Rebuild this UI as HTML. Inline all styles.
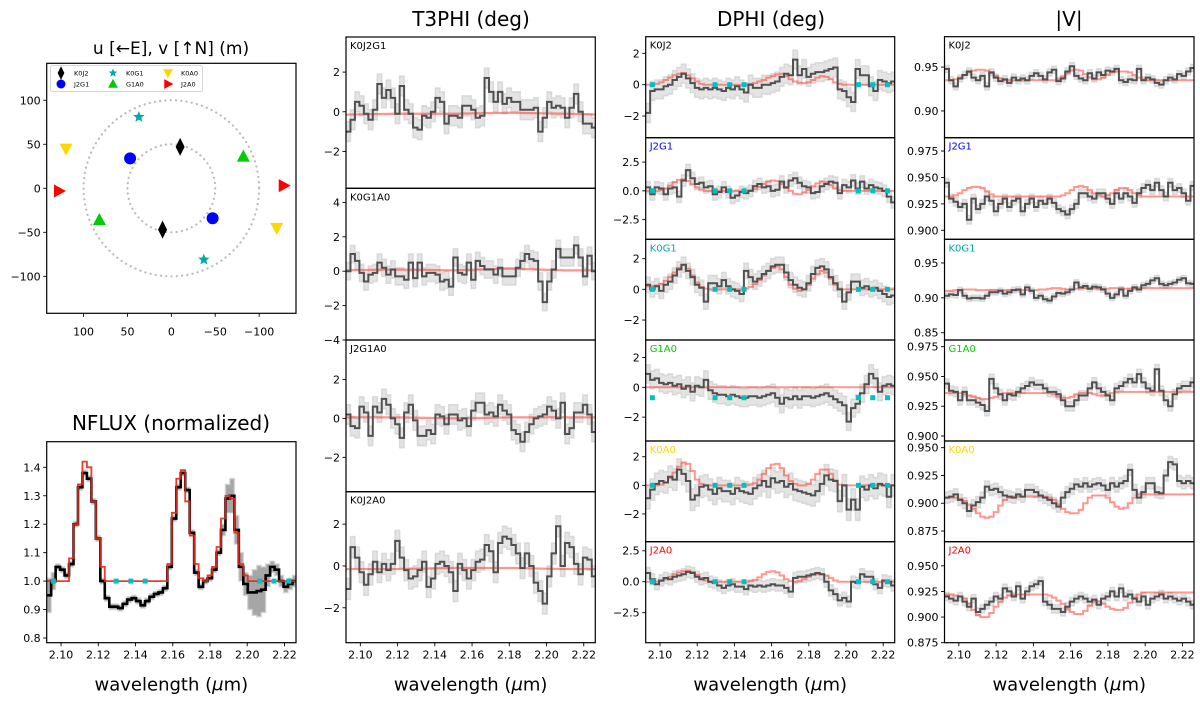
<!DOCTYPE html>
<html><head><meta charset="utf-8"><style>
html,body{margin:0;padding:0;background:#fff;}
svg{display:block;font-family:"DejaVu Sans","Liberation Sans",sans-serif;}
</style></head><body>
<svg id="fig" width="1200" height="702" viewBox="0 0 1200 702" xmlns="http://www.w3.org/2000/svg">
<defs id="defs"></defs>
</svg>
<script>
// ---------- DATA ----------
const binStart = 2.0935, binWidth = 0.0024, nBins = 56;
const xTicks = [2.10, 2.12, 2.14, 2.16, 2.18, 2.20, 2.22];
const contWl = [2.0959, 2.1296, 2.1375, 2.1452, 2.2067, 2.2144, 2.2223];

const nfluxData = [0.95,1.00,1.05,1.04,1.02,1.06,1.20,1.33, 1.38,1.36,1.28,1.15,1.00,0.94,0.91,0.91, 0.905,0.92,0.935,0.94,0.93,0.915,0.93,0.945, 0.955,0.96,0.975,1.05,1.22,1.33,1.38,1.32, 1.17,1.03,0.98,1.00,1.01,1.04,1.10,1.18, 1.29,1.30,1.18,1.05,0.99,0.96,0.96,0.965, 0.97,1.02,1.05,1.04,1.00,0.98,0.99,1.00];
const nfluxModel = [1,1,1,1,1,1.08,1.2,1.34, 1.42,1.40,1.28,1.15,1.05,1,1,1, 1,1,1,1,1,1,1,1, 1,1,1,1.06,1.24,1.36,1.39,1.28, 1.16,1.06,1.01,1.0,1.02,1.05,1.12,1.22, 1.30,1.29,1.17,1.06,1.02,1,1,1, 1,1,1,1,1,1,1,1];
const nfluxErr = [0.06,0.03,0.01,0.01,0.01,0.01,0.01,0.01, 0.01,0.01,0.01,0.01,0.01,0.01,0.01,0.01, 0.01,0.01,0.01,0.01,0.01,0.01,0.01,0.01, 0.01,0.01,0.01,0.01,0.01,0.01,0.01,0.01, 0.01,0.01,0.01,0.01,0.01,0.01,0.01,0.02, 0.05,0.06,0.05,0.05,0.04,0.06,0.08,0.09, 0.08,0.04,0.02,0.02,0.02,0.02,0.02,0.02];
const nfluxTicks = [0.8,0.9,1.0,1.1,1.2,1.3,1.4];

const t3Names = ['K0J2G1','K0G1A0','J2G1A0','K0J2A0'];
const t3Data1 = [-1.0,-0.4,0.5,0.3,-0.1,-0.4,0.1,1.4,0.7,1.1,0.7,-0.1,1.3,0.1,-0.1,-0.8,-0.9,-0.2,-0.3,0.0,0.7,0.5,-0.6,-0.2,-0.2,-0.3,0.3,0.3,0.1,-0.3,-0.2,1.7,1.0,0.5,1.0,0.4,0.7,0.5,0.5,0.1,0.1,0.1,0.2,-1.0,-0.3,0.5,0.2,0.3,0.2,-0.3,0.2,0.9,0.0,-0.6,-0.6,-0.8];
const t3Data2 = [0.0,1.0,0.6,-0.1,-0.6,-0.2,-0.1,0.5,0.2,-0.2,0.1,-0.3,-0.3,-0.5,0.5,-0.4,0.5,-0.3,-0.1,-0.1,-0.2,-0.6,-0.5,-0.9,0.8,-0.1,-0.2,0.5,-0.5,0.6,0.3,0.1,0.1,-0.2,0.2,-0.3,-0.3,-0.3,0.2,0.6,1.0,0.7,0.6,-0.6,-1.8,-0.6,0.1,1.3,0.8,0.8,0.8,1.5,0.8,-0.3,0.9,0.0];
const t3Data3 = [0.2,-0.4,-0.5,0.6,0.3,-0.9,0.6,0.3,1.0,0.7,0.0,-0.3,-1.0,0.3,0.7,-0.1,-0.9,-0.9,-0.6,-0.8,0.2,0.1,-0.3,0.2,0.2,-0.1,0.0,-0.4,0.4,0.8,0.8,0.2,0.3,0.1,0.7,0.4,0.2,-0.6,-0.8,-1.2,-0.7,-0.3,0.0,0.1,0.2,0.6,0.4,0.0,0.8,-0.8,-0.5,0.3,0.3,0.7,0.2,-0.7];
const t3Data4 = [-1.1,0.9,0.4,-0.3,-0.9,-0.4,0.2,-0.3,0.1,-0.2,0.1,1.2,0.4,-0.2,-0.6,-0.5,-0.2,0.2,-1.0,-0.6,0.1,0.2,0.0,-0.3,-1.2,0.1,-0.2,-0.6,-0.2,0.2,0.3,1.0,0.7,-0.3,1.1,1.4,1.3,1.0,0.6,-0.1,0.6,0.0,-0.8,-1.2,-1.8,-0.5,0.6,1.9,0.0,1.1,0.9,0.1,-0.4,0.4,0.3,-0.5];
const t3ModelWl = [2.09, 2.12, 2.15, 2.18, 2.21, 2.23];
const t3Model1 = [-0.15,-0.1,-0.1,-0.05,-0.1,-0.15];
const t3Model2 = [0.05,0.1,0.05,0.15,0.05,0.05];
const t3Model3 = [0.05,0.05,0.0,0.05,0.05,0.05];
const t3Model4 = [-0.15,-0.15,-0.1,-0.1,-0.15,-0.15];

const blNames = ['K0J2','J2G1','K0G1','G1A0','K0A0','J2A0'];
const dphiData1 = [-1.8,-0.4,-0.3,-0.3,-0.1,0.0,0.3,0.5,0.7,0.4,0.1,-0.2,-0.3,-0.2,-0.3,-0.2,-0.3,-0.4,-0.2,-0.3,-0.1,-0.3,-0.5,0.0,-0.2,-0.2,0.0,0.0,0.1,0.2,0.5,0.7,0.6,1.6,0.6,1.0,0.5,0.7,0.8,0.8,0.9,1.0,1.1,-0.3,-0.4,-0.8,-1.1,1.0,0.6,0.6,-0.1,-0.4,0.3,0.2,0.1,0.2];
const dphiModel1 = [0,0,0.05,0.15,0.3,0.45,0.6,0.7,0.75,0.6,0.4,0.2,0.05,0,0,0,0,0,0,0,0,0,0,0.05,0.1,0.2,0.3,0.45,0.55,0.65,0.7,0.55,0.35,0.2,0.12,0.1,0.15,0.3,0.45,0.55,0.5,0.35,0.15,0.05,0,0,0,0,0,0,0,0,0,0,0,0];
const dphiData2 = [0.3,-0.3,0.3,0.2,-0.3,0.2,0.3,-0.5,0.9,1.8,1.1,0.6,0.7,0.3,0.4,-0.3,-0.1,0.3,-0.1,-0.6,-0.4,-0.1,-0.2,0.0,0.4,0.6,0.3,0.4,0.0,0.1,0.8,0.3,0.9,1.1,0.7,0.4,0.3,-0.2,-0.1,0.4,0.6,0.8,0.7,-0.2,0.5,0.3,0.9,0.2,0.8,0.2,0.5,0.3,0.2,0.0,-0.5,-1.0];
const dphiModel2 = [0,0,0,0.05,0.2,0.45,0.75,0.95,1.0,0.85,0.55,0.3,0.1,0,0,0,0,0,0,0,0,0,0,0.05,0.15,0.35,0.6,0.8,0.9,0.85,0.6,0.25,0,-0.25,-0.3,-0.15,0.1,0.4,0.65,0.8,0.75,0.5,0.2,0.05,0,0,0,0,0,0,0,0,0,0,0,0];
const dphiData3 = [0.3,0.0,0.2,-0.1,0.3,0.5,0.9,1.3,1.6,1.2,0.8,0.3,0.1,-0.8,0.4,0.4,0.2,0.6,0.2,0.0,-0.1,-0.3,1.2,0.8,0.5,0.7,1.0,1.2,1.5,1.6,1.6,1.1,0.6,0.3,0.1,0.0,0.4,1.0,1.4,1.5,1.3,0.8,0.4,0.0,-0.8,-0.2,0.5,0.5,0.1,0.2,0.0,0.1,-0.1,-0.3,-0.5,-0.4];
const dphiModel3 = [0.2,0.2,0.25,0.35,0.55,0.8,1.1,1.4,1.6,1.35,0.9,0.45,0.15,0.05,0,0,0,0,0,0,0,0,0.05,0.15,0.35,0.6,0.9,1.2,1.4,1.5,1.3,0.8,0.3,0.05,-0.1,0,0.3,0.7,1.0,1.2,1.1,0.7,0.3,0.05,0,0,0,0,0,0,0,0,0,0,0,0];
const dphiData4 = [0.9,0.5,0.6,0.3,0.2,0.3,0.1,0.2,-0.1,0.1,-0.3,0.1,0.0,0.5,-0.2,-0.4,-0.5,-0.5,-0.6,-0.5,-0.6,-0.7,-0.7,-0.6,-0.6,-0.7,-0.6,-0.5,-0.4,-0.7,-1.1,-0.7,-0.8,-0.6,-0.8,-0.6,-0.6,-0.7,-0.6,-0.5,-0.4,-0.6,-0.8,-1.0,-1.2,-2.3,-1.4,-1.1,-0.4,0.2,0.9,0.6,-0.3,0.1,0.2,0.1];
const dphiModel4 = [0,0,0,0,0,0,0,0,0,0,0,0,0,0,0,0,0,0,0,0,0,0,0,0,0,0,0,0,0,0,0,0,0,0,0,0,0,0,0,0,0,0,0,0,0,0,0,0,0,0,0,0,0,0,0,0];
const dphiData5 = [-0.9,-0.3,0.1,0.3,0.2,0.6,0.4,1.1,0.8,0.3,-1.0,-0.7,-0.1,0.0,-0.3,-0.6,-0.2,-0.4,-0.4,-0.6,-0.2,-0.4,-0.5,-0.6,-0.2,0.0,0.3,-0.1,0.5,0.2,0.3,-0.1,0.1,-0.3,-0.4,-0.5,-0.6,-0.7,-0.4,0.1,0.7,0.4,0.3,-1.1,0.0,-1.7,-1.0,-1.7,-0.1,-0.3,0.0,-0.2,0.1,0.0,-0.8,0.0];
const dphiModel5 = [0,0,0,0.05,0.2,0.5,0.9,1.3,1.6,1.5,1.0,0.4,0.1,0,0,0,0,0,0,0,0,0,0,0.05,0.15,0.4,0.8,1.2,1.45,1.5,1.2,0.7,0.3,0.1,0,0,0.1,0.4,0.8,1.1,1.1,0.8,0.35,0.05,0,0,0,0,0,0,0,0,0,0,0,0];
const dphiData6 = [0.7,0.2,-0.2,0.1,0.3,0.2,0.4,0.5,0.6,0.8,0.7,0.4,0.2,0.3,0.0,-0.1,-0.3,-0.5,-0.3,-0.2,-0.4,-0.4,-0.6,-0.3,-0.4,-0.3,-0.4,-0.3,-0.2,-0.3,-0.3,-0.5,-0.8,0.3,0.4,0.4,0.5,0.6,0.7,0.6,0.0,-0.7,-1.0,-1.5,-1.3,-1.6,0.0,-0.1,0.6,0.4,0.4,-0.2,-0.5,0.1,0.0,-0.3];
const dphiModel6 = [0,0,0,0.05,0.2,0.4,0.6,0.75,0.85,0.9,0.8,0.55,0.3,0.1,0,0,0,0,0,0,0,0,0,0.05,0.15,0.35,0.6,0.8,0.85,0.75,0.5,0.2,0.05,0,0.05,0.2,0.4,0.55,0.6,0.6,0.5,0.3,0.1,0,0,0,0,0,0,0,0,0,0,0,0,0];

const visData1 = [0.948,0.935,0.928,0.937,0.941,0.945,0.938,0.935,0.940,0.928,0.944,0.938,0.934,0.936,0.932,0.938,0.935,0.937,0.935,0.940,0.943,0.940,0.936,0.944,0.947,0.934,0.937,0.945,0.951,0.940,0.937,0.935,0.943,0.937,0.944,0.941,0.946,0.945,0.948,0.935,0.933,0.936,0.935,0.948,0.935,0.938,0.936,0.932,0.930,0.935,0.938,0.936,0.942,0.940,0.945,0.949];
const visModel1 = [0.935,0.935,0.936,0.938,0.941,0.944,0.946,0.947,0.947,0.946,0.943,0.940,0.937,0.935,0.935,0.935,0.935,0.935,0.935,0.935,0.935,0.935,0.935,0.935,0.935,0.936,0.939,0.943,0.946,0.947,0.946,0.942,0.938,0.936,0.936,0.938,0.941,0.944,0.945,0.945,0.945,0.944,0.941,0.938,0.936,0.935,0.935,0.935,0.935,0.935,0.935,0.935,0.935,0.935,0.935,0.935];
const visData2 = [0.945,0.930,0.927,0.922,0.925,0.910,0.930,0.920,0.925,0.932,0.928,0.918,0.925,0.930,0.922,0.928,0.930,0.918,0.925,0.930,0.922,0.928,0.925,0.930,0.926,0.920,0.918,0.915,0.920,0.925,0.935,0.935,0.932,0.930,0.935,0.935,0.930,0.925,0.935,0.930,0.935,0.932,0.926,0.935,0.940,0.943,0.938,0.945,0.938,0.932,0.945,0.938,0.940,0.935,0.928,0.942];
const visModel2 = [0.932,0.932,0.933,0.935,0.938,0.940,0.941,0.941,0.940,0.937,0.934,0.932,0.932,0.932,0.932,0.932,0.932,0.932,0.932,0.932,0.932,0.932,0.932,0.932,0.932,0.932,0.933,0.935,0.938,0.941,0.942,0.941,0.938,0.935,0.933,0.932,0.933,0.935,0.938,0.940,0.940,0.938,0.935,0.933,0.932,0.932,0.932,0.932,0.932,0.932,0.932,0.932,0.932,0.932,0.932,0.932];
const visData3 = [0.903,0.905,0.904,0.911,0.903,0.899,0.900,0.900,0.899,0.903,0.908,0.908,0.910,0.906,0.908,0.911,0.912,0.905,0.915,0.910,0.900,0.903,0.898,0.896,0.902,0.907,0.906,0.908,0.912,0.922,0.915,0.917,0.913,0.916,0.915,0.912,0.906,0.900,0.905,0.912,0.903,0.910,0.915,0.912,0.918,0.920,0.925,0.928,0.920,0.918,0.920,0.922,0.926,0.928,0.921,0.920];
const visModel3 = [0.910,0.910,0.911,0.911,0.912,0.912,0.912,0.911,0.911,0.911,0.911,0.911,0.911,0.911,0.911,0.911,0.911,0.911,0.911,0.911,0.911,0.912,0.912,0.913,0.914,0.914,0.913,0.912,0.912,0.913,0.914,0.914,0.914,0.914,0.913,0.913,0.913,0.914,0.914,0.914,0.913,0.913,0.913,0.914,0.914,0.914,0.914,0.914,0.914,0.914,0.914,0.914,0.914,0.914,0.914,0.914];
const visData4 = [0.944,0.938,0.937,0.930,0.937,0.930,0.930,0.928,0.926,0.921,0.948,0.940,0.935,0.930,0.935,0.934,0.937,0.940,0.942,0.945,0.943,0.943,0.940,0.937,0.937,0.935,0.930,0.925,0.925,0.930,0.934,0.934,0.940,0.945,0.940,0.937,0.934,0.930,0.940,0.942,0.945,0.948,0.945,0.952,0.945,0.940,0.938,0.956,0.938,0.930,0.925,0.935,0.940,0.942,0.942,0.945];
const visModel4 = [0.936,0.936,0.936,0.936,0.935,0.934,0.933,0.932,0.931,0.931,0.932,0.933,0.935,0.936,0.936,0.936,0.936,0.936,0.936,0.936,0.936,0.936,0.936,0.936,0.935,0.933,0.932,0.932,0.933,0.935,0.936,0.936,0.936,0.935,0.934,0.934,0.935,0.936,0.937,0.937,0.937,0.937,0.937,0.937,0.937,0.937,0.937,0.937,0.937,0.937,0.937,0.937,0.937,0.937,0.937,0.937];
const visData5 = [0.905,0.906,0.908,0.903,0.900,0.893,0.898,0.901,0.905,0.915,0.912,0.913,0.910,0.907,0.906,0.905,0.908,0.906,0.912,0.912,0.910,0.907,0.905,0.903,0.900,0.897,0.905,0.910,0.913,0.917,0.915,0.918,0.915,0.917,0.918,0.916,0.912,0.918,0.915,0.918,0.920,0.930,0.912,0.905,0.910,0.918,0.918,0.910,0.909,0.925,0.937,0.935,0.920,0.918,0.920,0.918];
const visModel5 = [0.905,0.905,0.905,0.904,0.902,0.899,0.895,0.891,0.888,0.887,0.888,0.892,0.898,0.903,0.905,0.906,0.906,0.906,0.906,0.906,0.906,0.906,0.906,0.905,0.903,0.899,0.895,0.892,0.891,0.891,0.894,0.900,0.905,0.907,0.907,0.907,0.905,0.901,0.897,0.895,0.896,0.900,0.905,0.908,0.908,0.908,0.908,0.908,0.908,0.908,0.908,0.908,0.908,0.908,0.908,0.908];
const visData6 = [0.920,0.918,0.916,0.920,0.915,0.910,0.918,0.905,0.908,0.912,0.915,0.920,0.918,0.928,0.925,0.920,0.930,0.918,0.925,0.930,0.932,0.935,0.915,0.912,0.908,0.908,0.905,0.910,0.915,0.918,0.920,0.918,0.915,0.917,0.912,0.918,0.920,0.925,0.920,0.928,0.920,0.922,0.918,0.915,0.920,0.912,0.918,0.920,0.922,0.918,0.920,0.918,0.916,0.918,0.915,0.912];
const visModel6 = [0.922,0.922,0.921,0.920,0.918,0.913,0.907,0.902,0.900,0.900,0.904,0.910,0.915,0.919,0.921,0.922,0.922,0.922,0.922,0.922,0.922,0.922,0.922,0.921,0.919,0.916,0.913,0.908,0.905,0.903,0.903,0.906,0.911,0.915,0.915,0.913,0.910,0.908,0.907,0.907,0.909,0.914,0.919,0.922,0.924,0.924,0.924,0.924,0.924,0.924,0.924,0.924,0.924,0.924,0.924,0.924];

const uvNames = ['K0J2','J2G1','K0G1','G1A0','K0A0','J2A0'];
const uvU = [-10, 47, 37, -82, 120, 128];
const uvV = [47, 34, 81, 36, 45, -3];
const uvRadii = [50, 100];
const uvTicks = [-100,-50,0,50,100];

// ---------- RENDER ----------
const NS='http://www.w3.org/2000/svg';
const svg=document.getElementById('fig');
const defs=document.getElementById('defs');
let clipId=0;
function mk(tag,attrs,parent){const e=document.createElementNS(NS,tag);for(const k in attrs)e.setAttribute(k,attrs[k]);(parent||svg).appendChild(e);return e;}
function fmt(v,d){const s=Math.abs(v).toFixed(d);return (v<0?'\u2212':'')+s;}
const XMIN=2.0923, XMAX=2.2262;
const COLS={K0J2:'#000000',J2G1:'#0000ff',K0G1:'#00a8a8',G1A0:'#00cc00',K0A0:'#ffd700',J2A0:'#ff0000'};

function panel(name,x0,y0,w,h,ymin,ymax,ticks,dec,showX){
  const g=mk('g',{});
  
  
  const xs=v=>x0+(v-XMIN)/(XMAX-XMIN)*w;
  const ys=v=>y0+h-(v-ymin)/(ymax-ymin)*h;
  const cid='c'+(clipId++);
  const cp=mk('clipPath',{id:cid},defs);
  mk('rect',{x:x0,y:y0,width:w,height:h},cp);
  const plot=mk('g',{'clip-path':'url(#'+cid+')'},g);
  const axis=mk('g',{},g);
  ticks.forEach(t=>{
    const y=ys(t);
    const tk=mk('line',{x1:x0-3.5,x2:x0,y1:y,y2:y,stroke:'#000','stroke-width':0.9},axis);
    
    
    const tl=mk('text',{x:x0-6,y:y+4,'text-anchor':'end','font-size':11,fill:'#000'},axis);
    tl.textContent=fmt(t,dec);
    
    
  });
  if(showX){
    xTicks.forEach(t=>{
      const x=xs(t);
      const tk=mk('line',{x1:x,x2:x,y1:y0+h,y2:y0+h+3.5,stroke:'#000','stroke-width':0.9},axis);
      
      
      const tl=mk('text',{x:x,y:y0+h+16,'text-anchor':'middle','font-size':11,fill:'#000'},axis);
      tl.textContent=t.toFixed(2);
      
      
    });
    const xl=mk('text',{x:x0+w/2,y:y0+h+48,'text-anchor':'middle','font-size':18,fill:'#000'},axis);
    xl.innerHTML='wavelength (<tspan font-style="italic">\u03bc</tspan>m)';
    
    
  }
  return {g,plot,axis,xs,ys,x0,y0,w,h};
}
function frame(p){
  const f=mk('rect',{x:p.x0,y:p.y0,width:p.w,height:p.h,fill:'none',stroke:'#000','stroke-width':1.2},p.g);
  
  
}
function stepPath(p,vals){
  let d='';
  vals.forEach((v,i)=>{
    const xa=p.xs(binStart+(i-0.5)*binWidth), xb=p.xs(binStart+(i+0.5)*binWidth), y=p.ys(v);
    d+=(i===0?'M'+xa+' '+y:'V'+y)+'H'+xb;
  });
  return d;
}
function band(p,vals,errs,fill,opacity,name){
  const up=vals.map((v,i)=>v+(Array.isArray(errs)?errs[i]:errs));
  const lo=vals.map((v,i)=>v-(Array.isArray(errs)?errs[i]:errs));
  let d=stepPath(p,up);
  for(let i=lo.length-1;i>=0;i--){
    const xa=p.xs(binStart+(i-0.5)*binWidth), xb=p.xs(binStart+(i+0.5)*binWidth), y=p.ys(lo[i]);
    d+='L'+xb+' '+y+'H'+xa;
  }
  d+='Z';
  const e=mk('path',{d:d,fill:fill,'fill-opacity':opacity,stroke:'#cfcfcf','stroke-width':1.5,'stroke-opacity':0.7},p.plot);
  
  
}
function line(p,vals,color,width,opacity,name){
  const e=mk('path',{d:stepPath(p,vals),fill:'none',stroke:color,'stroke-width':width,'stroke-opacity':opacity},p.plot);
  
  
}
function smooth(p,xsArr,vals,color,name){
  const d=vals.map((v,i)=>(i?'L':'M')+p.xs(xsArr[i])+' '+p.ys(v)).join('');
  const e=mk('path',{d:d,fill:'none',stroke:color,'stroke-width':2.2,'stroke-opacity':0.5},p.plot);
  
  
}
function contMarkers(p,yv,name){
  contWl.forEach(w=>{
    const e=mk('rect',{x:p.xs(w)-2.5,y:p.ys(yv)-2.5,width:5,height:5,fill:'#00c0c0'},p.plot);
    
    
  });
}
function label(p,text,color){
  const t=mk('text',{x:p.x0+4,y:p.y0+12,'font-size':10,fill:color},p.g);
  t.textContent=text;
  
  
}
function title(x,y,size,text,name){
  const t=mk('text',{x:x,y:y,'text-anchor':'middle','font-size':size,fill:'#000'});
  t.textContent=text;
  
  
}

// Titles
title(171,54,17,'u [\u2190E], v [\u2191N] (m)','uv-title');
title(171,430,20,'NFLUX (normalized)','nflux-title');
title(471,26,20,'T3PHI (deg)','t3phi-title');
title(771,26,20,'DPHI (deg)','dphi-title');
title(1069,26,20,'|V|','vis-title');

// ---- UV plot ----
(function(){
  const x0=46.7,y0=63.3,w=249.3,h=250,lim=142;
  const g=mk('g',{});
  
  
  const ux=u=>x0+w/2-u/lim*(w/2);
  const vy=v=>y0+h/2-v/lim*(h/2);
  uvRadii.forEach(r=>{
    const c=mk('ellipse',{cx:ux(0),cy:vy(0),rx:r/lim*w/2,ry:r/lim*h/2,fill:'none',stroke:'#bbb','stroke-width':2.2,'stroke-dasharray':'0.1 5.2','stroke-linecap':'round'},g);
    
    
  });
  function marker(parent,name,cx,cy,s){
    const col=COLS[name];let e;
    if(name==='K0J2') e=mk('polygon',{points:`${cx},${cy-9*s} ${cx+4.5*s},${cy} ${cx},${cy+9*s} ${cx-4.5*s},${cy}`,fill:col},parent);
    else if(name==='J2G1') e=mk('circle',{cx:cx,cy:cy,r:6*s,fill:col},parent);
    else if(name==='K0G1'){let pts=[];for(let k=0;k<10;k++){const a=-Math.PI/2+k*Math.PI/5,r=(k%2?2.6:6)*s;pts.push((cx+r*Math.cos(a))+','+(cy+r*Math.sin(a)));}e=mk('polygon',{points:pts.join(' '),fill:col},parent);}
    else if(name==='G1A0') e=mk('polygon',{points:`${cx},${cy-7*s} ${cx+6.5*s},${cy+5*s} ${cx-6.5*s},${cy+5*s}`,fill:col},parent);
    else if(name==='K0A0') e=mk('polygon',{points:`${cx},${cy+7*s} ${cx+6.5*s},${cy-5*s} ${cx-6.5*s},${cy-5*s}`,fill:col},parent);
    else e=mk('polygon',{points:`${cx+7*s},${cy} ${cx-5*s},${cy+6.5*s} ${cx-5*s},${cy-6.5*s}`,fill:col},parent);
    return e;
  }
  uvNames.forEach((n,i)=>{
    const a=marker(g,n,ux(uvU[i]),vy(uvV[i]),1);
    
    
    const b=marker(g,n,ux(-uvU[i]),vy(-uvV[i]),1);
    
    
  });
  uvTicks.forEach(t=>{
    const ty=mk('line',{x1:x0-3.5,x2:x0,y1:vy(t),y2:vy(t),stroke:'#000','stroke-width':0.9},g);
    
    
    const tl=mk('text',{x:x0-6,y:vy(t)+4,'text-anchor':'end','font-size':11},g);
    tl.textContent=fmt(t,0);
    
    
    const tx=mk('line',{x1:ux(t),x2:ux(t),y1:y0+h,y2:y0+h+3.5,stroke:'#000','stroke-width':0.9},g);
    
    
    const xl=mk('text',{x:ux(t),y:y0+h+22,'text-anchor':'middle','font-size':11},g);
    xl.textContent=fmt(t,0);
    
    
  });
  const lg=mk('g',{},g);
  
  
  mk('rect',{x:50.5,y:65.5,width:152,height:26,fill:'#fff',stroke:'#ccc','stroke-width':0.8,rx:2},lg);
  uvNames.forEach((n,i)=>{
    const col=Math.floor(i/2)===0?0:(Math.floor(i/2));
    const order=[[0,0],[0,1],[1,0],[1,1],[2,0],[2,1]][i];
    const mx=[61,113,168][order[0]], my=[73,84][order[1]];
    const m=marker(lg,n,mx,my,0.75);
    
    
    const t=mk('text',{x:mx+13,y:my+2.5,'font-size':6.5},lg);
    t.textContent=n;
    
    
  });
  const f=mk('rect',{x:x0,y:y0,width:w,height:h,fill:'none',stroke:'#000','stroke-width':1.2},g);
  
  
})();

// ---- NFLUX ----
(function(){
  const p=panel('nflux-panel',46.7,441.7,249.3,201,0.7835,1.49,nfluxTicks,1,true);
  band(p,nfluxData,nfluxErr,'#888',0.75,'nflux-error-band');
  line(p,nfluxData,'#000',2.6,1,'nflux-data-line');
  line(p,nfluxModel,'#e8281a',1.8,0.9,'nflux-model-line');
  contWl.forEach(w=>{
    const e=mk('rect',{x:p.xs(w)-2.5,y:p.ys(1.0)-2.5,width:5,height:5,fill:'#00c0c0'},p.plot);
    
    
  });
  frame(p);
})();

// ---- T3PHI ----
const t3Rows=[[37,188.3,-3.86,3.77,[-2,0,2]],[188.3,340,-4,4.82,[-4,-2,0,2,4]],[340,491.7,-3.76,4.02,[-2,0,2]],[491.7,642.7,-3.67,3.55,[-2,0,2]]];
const t3DataAll=[t3Data1,t3Data2,t3Data3,t3Data4];
const t3ModelAll=[t3Model1,t3Model2,t3Model3,t3Model4];
t3Rows.forEach((r,k)=>{
  const p=panel('t3phi-panel-'+t3Names[k].toLowerCase(),346,r[0],249.3,r[1]-r[0],r[2],r[3],r[4],0,k===3);
  band(p,t3DataAll[k],0.5,'#d8d8d8',0.7,'t3phi-error-band');
  smooth(p,t3ModelWl,t3ModelAll[k],'#ff2a1a','t3phi-model-line');
  line(p,t3DataAll[k],'#505050',2,1,'t3phi-data-line');
  label(p,t3Names[k],'#000');
  frame(p);
});

// ---- DPHI ----
const rowsY=[[36.7,137.7],[137.7,239.3],[239.3,340],[340,441],[441,541.7],[541.7,642.7]];
const dphiLims=[[-3.38,3.06,[-2,0,2],0],[-4.21,4.62,[-2.5,0,2.5],1],[-3.30,3.26,[-2,0,2],0],[-3.6,3.17,[-2,0,2],0],[-3.94,3.1,[-2,0,2],0],[-4.92,3.23,[-2.5,0,2.5],1]];
const dphiDataAll=[dphiData1,dphiData2,dphiData3,dphiData4,dphiData5,dphiData6];
const dphiModelAll=[dphiModel1,dphiModel2,dphiModel3,dphiModel4,dphiModel5,dphiModel6];
const dphiErr=[0.6,0.5,0.5,0.6,0.75,0.45];
const contLevel=[0,0,0,-0.7,0,0];
rowsY.forEach((r,k)=>{
  const L=dphiLims[k];
  const p=panel('dphi-panel-'+blNames[k].toLowerCase(),645.7,r[0],249,r[1]-r[0],L[0],L[1],L[2],L[3],k===5);
  band(p,dphiDataAll[k],dphiErr[k],'#d8d8d8',0.7,'dphi-error-band');
  line(p,dphiModelAll[k],'#ff3020',2,0.5,'dphi-model-line');
  line(p,dphiDataAll[k],'#505050',2,1,'dphi-data-line');
  contMarkers(p,contLevel[k],'continuum-marker');
  label(p,blNames[k],COLS[blNames[k]]);
  frame(p);
});

// ---- |V| ----
const visLims=[[0.8695,0.9847,[0.90,0.95],2],[0.8915,0.9876,[0.900,0.925,0.950,0.975],3],[0.8396,0.9839,[0.85,0.90,0.95],2],[0.8958,0.9806,[0.900,0.925,0.950,0.975],3],[0.8654,0.956,[0.875,0.900,0.925,0.950],3],[0.875,0.9735,[0.875,0.900,0.925,0.950],3]];
const visDataAll=[visData1,visData2,visData3,visData4,visData5,visData6];
const visModelAll=[visModel1,visModel2,visModel3,visModel4,visModel5,visModel6];
const visErr=[0.004,0.004,0.004,0.004,0.005,0.004];
rowsY.forEach((r,k)=>{
  const L=visLims[k];
  const p=panel('vis-panel-'+blNames[k].toLowerCase(),944.5,r[0],249.5,r[1]-r[0],L[0],L[1],L[2],L[3],k===5);
  band(p,visDataAll[k],visErr[k],'#d8d8d8',0.7,'vis-error-band');
  line(p,visModelAll[k],'#ff3020',2,0.5,'vis-model-line');
  line(p,visDataAll[k],'#505050',2,1,'vis-data-line');
  label(p,blNames[k],COLS[blNames[k]]);
  frame(p);
});
</script>
</body></html>
